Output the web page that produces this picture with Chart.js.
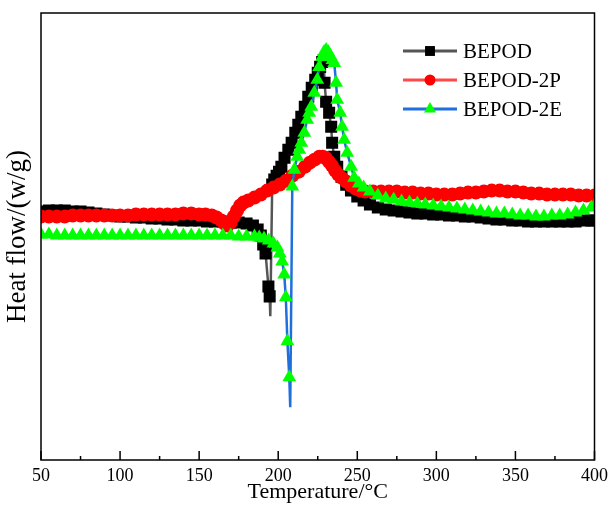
<!DOCTYPE html>
<html>
<head>
<meta charset="utf-8">
<script src="https://cdn.jsdelivr.net/npm/chart.js@4.4.1/dist/chart.umd.min.js"></script>
<style>
  html, body { margin: 0; padding: 0; background: #fff; }
  #wrap { width: 613px; height: 507px; }
</style>
</head>
<body>
<div id="wrap"><canvas id="dsc" width="613" height="507"></canvas></div>
<script>
// x axis
const tempMin = 50;
const tempMax = 400;
const majorStep = 50;
const minorStep = 25;

// BEPOD
const bepodT = [50,55,60,65,70,75,80,85,90,95,100,105,110,115,120,125,130,135,140,145,150,155,160,165,170,175,180,
  184,187,189,190.5,192,193.8,194.6,195.0,196.2,
  197.5,199,200.5,202,204,206.4,208.5,210.8,212.7,214.6,216.8,219,221.2,223.4,225,226.5,227.8,228.8,
  229.3,230.3,232.2,233.5,234.1,235.4,237.3,240,243,246,250,254,258,263,268,
  273,278,283,288,293,298,303,308,313,318,323,328,333,338,343,348,353,358,363,368,373,378,383,388,393,398,400];
const bepodHF = [2.49,2.50,2.50,2.50,2.49,2.49,2.48,2.47,2.46,2.45,2.44,2.44,2.43,2.43,2.42,2.42,2.41,2.41,2.40,2.40,2.40,2.39,2.39,2.39,2.38,2.38,2.37,
  2.35,2.31,2.25,2.16,2.07,1.74,1.64,1.44,2.76,
  2.81,2.85,2.89,2.94,3.03,3.11,3.18,3.28,3.36,3.44,3.54,3.64,3.73,3.81,3.88,3.94,3.99,4.01,
  3.78,3.59,3.48,3.34,3.18,3.04,2.94,2.84,2.76,2.70,2.64,2.60,2.56,2.53,2.51,
  2.50,2.49,2.48,2.47,2.47,2.46,2.46,2.45,2.45,2.44,2.44,2.43,2.42,2.41,2.41,2.40,2.40,2.39,2.39,2.39,2.39,2.39,2.39,2.39,2.40,2.40,2.40];

// BEPOD-2P
const p2T = [50,55,60,65,70,75,80,85,90,95,100,105,110,115,120,125,130,135,140,145,150,
  154,158,161,164,166,168,170,172,174,176,178,181,185,189,193,197,201,205,209,213,217,220,223,226,228,230,232,234,236,238,240,243,246,249,252,
  255,260,265,270,275,280,285,290,295,300,305,310,315,320,325,330,335,340,345,350,355,360,365,370,375,380,385,390,395,400];
const p2HF = [2.44,2.44,2.44,2.44,2.45,2.45,2.45,2.45,2.45,2.45,2.45,2.45,2.46,2.46,2.46,2.46,2.46,2.46,2.47,2.47,2.46,
  2.46,2.45,2.43,2.40,2.37,2.35,2.38,2.44,2.50,2.55,2.58,2.60,2.63,2.66,2.70,2.73,2.76,2.80,2.85,2.89,2.94,2.98,3.01,3.04,3.04,3.03,2.99,2.95,2.90,2.86,2.83,2.79,2.75,2.72,2.70,
  2.69,2.69,2.69,2.69,2.69,2.68,2.68,2.67,2.67,2.66,2.66,2.66,2.67,2.68,2.68,2.69,2.70,2.70,2.69,2.69,2.68,2.67,2.67,2.66,2.66,2.66,2.66,2.65,2.65,2.65];

// BEPOD-2E
const e2T = [50,55,60,65,70,75,80,85,90,95,100,105,110,115,120,125,130,135,140,145,150,155,160,165,170,175,180,185,
  188,191,194,197,199.5,201,202.5,203.8,204.8,205.8,207,207.6,
  208.9,210.2,212,213.3,214.6,216.5,218.3,219.6,220.9,222.8,224.7,225.9,227.8,229,230.3,
  231.6,233,234.3,235.4,236.6,237.3,239.2,240.4,241.7,243.6,246.1,248,251,254,258,263,268,
  273,278,283,288,293,298,303,308,313,318,323,328,333,338,343,348,353,358,363,368,373,378,383,388,393,398,400];
const e2HF = [2.26,2.26,2.25,2.25,2.25,2.25,2.25,2.25,2.25,2.25,2.25,2.25,2.25,2.25,2.25,2.25,2.25,2.25,2.25,2.25,2.25,2.25,2.25,2.25,2.25,2.24,2.24,2.24,
  2.23,2.22,2.20,2.17,2.13,2.07,1.99,1.86,1.63,1.19,0.83,0.53,
  2.74,2.91,3.04,3.11,3.18,3.28,3.41,3.48,3.54,3.68,3.81,3.94,4.04,4.09,4.11,
  4.09,4.05,4.01,3.98,3.78,3.61,3.48,3.34,3.21,3.08,2.94,2.83,2.77,2.73,2.69,2.65,2.62,
  2.61,2.59,2.58,2.57,2.56,2.55,2.54,2.53,2.52,2.51,2.50,2.49,2.48,2.47,2.47,2.46,2.45,2.45,2.44,2.44,2.45,2.45,2.46,2.48,2.50,2.53,2.55];

function toPoints(xs, ys) {
  return xs.map((t, i) => ({ x: t, y: ys[i] }));
}

// the lowest point of each dip is passed between two samples, so no marker there
function markerSize(values, r) {
  const low = values.indexOf(Math.min(...values));
  return ctx => ctx.dataIndex === low ? 0 : r;
}

function drawMarker(ctx, style, r, x, y) {
  ctx.beginPath();
  if (style === 'rect') {
    const s = r * Math.SQRT1_2;
    ctx.rect(x - s, y - s, 2 * s, 2 * s);
  } else if (style === 'triangle') {
    ctx.moveTo(x, y - r);
    ctx.lineTo(x + r * 0.866, y + r * 0.5);
    ctx.lineTo(x - r * 0.866, y + r * 0.5);
    ctx.closePath();
  } else {
    ctx.arc(x, y, r, 0, Math.PI * 2);
  }
  ctx.fill();
}

const framePlugin = {
  id: 'frame',
  afterDatasetsDraw(chart) {
    const { ctx, chartArea: a, scales: { x } } = chart;
    ctx.save();
    ctx.strokeStyle = '#000';
    ctx.lineWidth = 1.5;
    ctx.strokeRect(a.left, a.top, a.right - a.left, a.bottom - a.top);
    ctx.beginPath();
    for (let t = tempMin; t <= tempMax; t += minorStep) {
      const px = x.getPixelForValue(t);
      const len = (t - tempMin) % majorStep === 0 ? 9 : 4;
      ctx.moveTo(px, a.bottom);
      ctx.lineTo(px, a.bottom - len);
    }
    ctx.stroke();
    ctx.restore();
  }
};

const legendPlugin = {
  id: 'lineLegend',
  afterDraw(chart) {
    const ctx = chart.ctx;
    const x0 = 403, x1 = 457, top = 51, gap = 29;
    ctx.save();
    chart.data.datasets.forEach((ds, i) => {
      const y = top + i * gap;
      ctx.strokeStyle = ds.borderColor;
      ctx.lineWidth = 3;
      ctx.beginPath();
      ctx.moveTo(x0, y);
      ctx.lineTo(x1, y);
      ctx.stroke();
      ctx.fillStyle = ds.pointBackgroundColor;
      drawMarker(ctx, ds.pointStyle, ds.legendRadius, (x0 + x1) / 2, y);
      ctx.fillStyle = '#000';
      ctx.font = '21px "Liberation Serif", "Times New Roman", serif';
      ctx.textBaseline = 'middle';
      ctx.fillText(ds.label, x1 + 6, y + 1);
    });
    ctx.restore();
  }
};

const serif = '"Liberation Serif", "Times New Roman", serif';

new Chart(document.getElementById('dsc'), {
  type: 'line',
  data: {
    datasets: [
      {
        label: 'BEPOD',
        data: toPoints(bepodT, bepodHF),
        borderColor: '#555555',
        borderWidth: 2.5,
        pointStyle: 'rect',
        pointRadius: markerSize(bepodHF, 8.5),
        legendRadius: 7,
        pointBackgroundColor: '#000000',
        pointBorderWidth: 0,
        order: 3
      },
      {
        label: 'BEPOD-2P',
        data: toPoints(p2T, p2HF),
        borderColor: '#ff4a4a',
        borderWidth: 2.5,
        pointStyle: 'circle',
        pointRadius: 7,
        legendRadius: 5.5,
        pointBackgroundColor: '#ff0000',
        pointBorderWidth: 0,
        order: 2
      },
      {
        label: 'BEPOD-2E',
        data: toPoints(e2T, e2HF),
        borderColor: '#1f6fdc',
        borderWidth: 2.5,
        pointStyle: 'triangle',
        pointRadius: markerSize(e2HF, 8),
        legendRadius: 7,
        pointBackgroundColor: '#00ff00',
        pointBorderWidth: 0,
        order: 1
      }
    ]
  },
  options: {
    responsive: false,
    animation: false,
    events: [],
    layout: { padding: { left: 0, right: 17, top: 13, bottom: 0 } },
    plugins: {
      legend: { display: false },
      tooltip: { enabled: false }
    },
    elements: { line: { tension: 0 } },
    scales: {
      x: {
        type: 'linear',
        min: tempMin,
        max: tempMax,
        grid: { display: false, drawTicks: false },
        border: { display: false },
        ticks: {
          stepSize: majorStep,
          color: '#000',
          padding: 5,
          maxRotation: 0,
          font: { family: serif, size: 18 }
        },
        title: {
          display: true,
          text: 'Temperature/°C',
          color: '#000',
          padding: { top: 0, bottom: 2 },
          font: { family: serif, size: 22 }
        },
        afterFit(scale) { scale.height = 47; }
      },
      y: {
        min: 0,
        max: 4.48,
        grid: { display: false, drawTicks: false },
        border: { display: false },
        ticks: { display: false },
        title: {
          display: true,
          text: 'Heat flow/(w/g)',
          color: '#000',
          padding: { top: 2, bottom: 0 },
          font: { family: serif, size: 27 }
        },
        afterFit(scale) { scale.width = 41; }
      }
    }
  },
  plugins: [framePlugin, legendPlugin]
});
</script>
</body>
</html>
